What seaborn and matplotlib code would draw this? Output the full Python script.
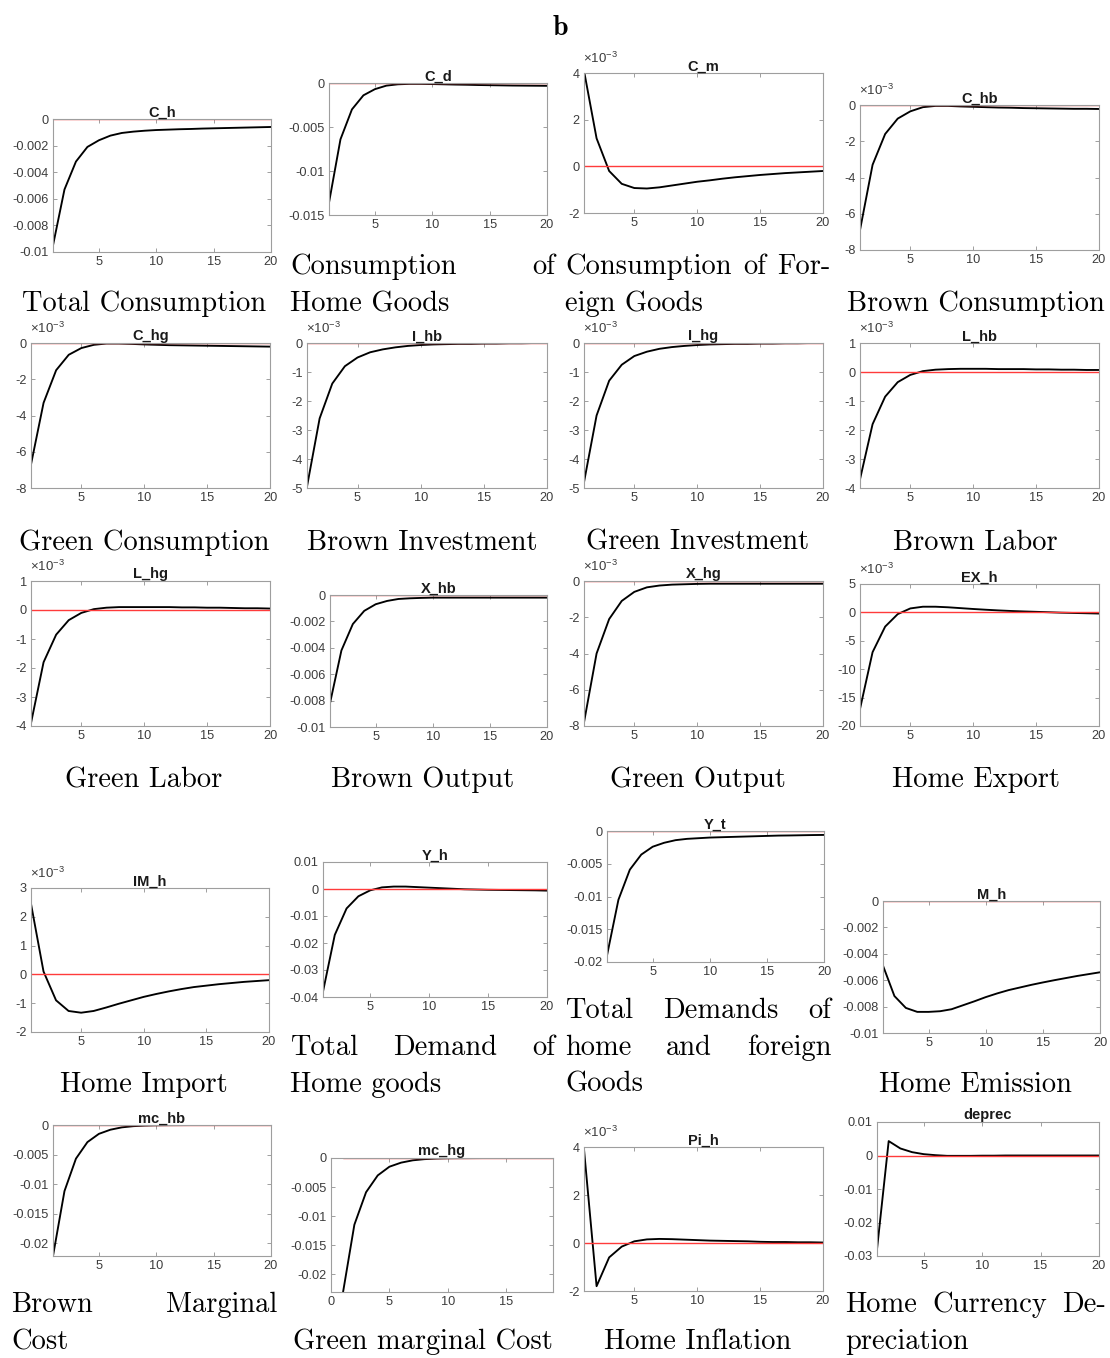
import numpy as np
import pandas as pd
import seaborn as sns
import matplotlib
matplotlib.use("Agg")
import matplotlib.pyplot as plt
from matplotlib.ticker import MultipleLocator, FuncFormatter

# ---------------- data ----------------
steps = list(range(1, 21))
zero_line = [0.0] * 20

c_h = [-0.0095, -0.0053, -0.0032, -0.0021, -0.0016, -0.00125, -0.00105, -0.00095, -0.00088, -0.00083,
       -0.0008, -0.00077, -0.00075, -0.00072, -0.0007, -0.00068, -0.00066, -0.00064, -0.00062, -0.0006]
c_d = [-0.0136, -0.0064, -0.0030, -0.0014, -0.0007, -0.0003, -0.00015, -0.0001, -0.0001, -0.00012,
       -0.00015, -0.00018, -0.0002, -0.00023, -0.00025, -0.00027, -0.00029, -0.0003, -0.00031, -0.00032]
c_m = [0.0041, 0.0012, -0.0002, -0.00075, -0.00093, -0.00095, -0.0009, -0.00082, -0.00074, -0.00066,
       -0.0006, -0.00053, -0.00047, -0.00042, -0.00037, -0.00033, -0.00029, -0.00026, -0.00023, -0.0002]
c_hb = [-0.0069, -0.0033, -0.0016, -0.00075, -0.00035, -0.00012, -0.00005, -0.00005, -0.00008, -0.0001,
        -0.00012, -0.00014, -0.00015, -0.00017, -0.00018, -0.00019, -0.0002, -0.00021, -0.00021, -0.00022]
c_hg = [-0.0067, -0.0033, -0.0015, -0.00065, -0.00028, -0.0001, -0.00003, -0.00003, -0.00005, -0.00008,
        -0.0001, -0.00012, -0.00013, -0.00014, -0.00015, -0.00016, -0.00017, -0.00018, -0.00019, -0.0002]
i_hb = [-0.00495, -0.0026, -0.0014, -0.0008, -0.0005, -0.00032, -0.00022, -0.00015, -0.0001, -0.00007,
        -0.00005, -0.00004, -0.00003, -0.00003, -0.00002, -0.00002, -0.00001, -0.00001, 0.0, 0.0]
i_hg = [-0.0048, -0.0025, -0.0013, -0.00075, -0.00045, -0.0003, -0.0002, -0.00014, -0.0001, -0.00007,
        -0.00005, -0.00004, -0.00003, -0.00003, -0.00002, -0.00002, -0.00001, -0.00001, 0.0, 0.0]
l_hb = [-0.0037, -0.0018, -0.00085, -0.00035, -0.0001, 0.00003, 0.00008, 0.0001, 0.00011, 0.00011,
        0.00011, 0.0001, 0.0001, 0.0001, 0.00009, 0.00009, 0.00008, 0.00008, 0.00007, 0.00007]
l_hg = [-0.0039, -0.0018, -0.00085, -0.00035, -0.0001, 0.00003, 0.00008, 0.0001, 0.0001, 0.0001,
        0.0001, 0.0001, 0.00009, 0.00009, 0.00008, 0.00008, 0.00007, 0.00006, 0.00006, 0.00005]
x_hb = [-0.0082, -0.0042, -0.0022, -0.0012, -0.0007, -0.00045, -0.0003, -0.00025, -0.00022, -0.0002,
        -0.0002, -0.0002, -0.0002, -0.0002, -0.0002, -0.0002, -0.0002, -0.0002, -0.0002, -0.0002]
x_hg = [-0.0078, -0.0040, -0.0021, -0.0011, -0.0006, -0.00035, -0.00025, -0.0002, -0.00018, -0.00016,
        -0.00015, -0.00015, -0.00015, -0.00015, -0.00015, -0.00015, -0.00015, -0.00015, -0.00015, -0.00015]
ex_h = [-0.017, -0.007, -0.0025, -0.0003, 0.0007, 0.001, 0.001, 0.0009, 0.00075, 0.0006,
        0.00047, 0.00035, 0.00025, 0.00017, 0.0001, 0.00003, -0.00005, -0.0001, -0.00015, -0.0002]
im_h = [0.00245, 0.0001, -0.0009, -0.00127, -0.00133, -0.00127, -0.00115, -0.00102, -0.0009, -0.00078,
        -0.00068, -0.00059, -0.00051, -0.00044, -0.00039, -0.00034, -0.0003, -0.00026, -0.00023, -0.0002]
y_h = [-0.038, -0.017, -0.0072, -0.0027, -0.0005, 0.0006, 0.0009, 0.0009, 0.0007, 0.0005,
       0.0003, 0.0001, -0.0001, -0.0002, -0.0003, -0.00035, -0.0004, -0.00045, -0.0005, -0.0006]
y_t = [-0.019, -0.0105, -0.0059, -0.0036, -0.0024, -0.0018, -0.0014, -0.0012, -0.0011, -0.001,
       -0.00095, -0.0009, -0.00085, -0.0008, -0.00075, -0.0007, -0.00068, -0.00065, -0.00062, -0.0006]
m_h = [-0.0049, -0.0072, -0.0081, -0.0084, -0.0084, -0.00835, -0.0082, -0.0079, -0.0076, -0.00728,
       -0.0070, -0.00675, -0.00655, -0.00635, -0.00617, -0.0060, -0.00584, -0.00568, -0.00554, -0.0054]
mc_hb = [-0.0222, -0.0112, -0.0057, -0.0029, -0.0015, -0.0008, -0.0004, -0.0002, -0.0001, -0.00005,
         -0.00003, -0.00002, -0.00001, 0.0, 0.0, 0.0, 0.0, 0.0, 0.0, 0.0]
mc_hg = [-0.0235, -0.0115, -0.0059, -0.003, -0.0015, -0.0008, -0.0004, -0.0002, -0.0001, -0.00005,
         -0.00003, -0.00002, -0.00001, 0.0, 0.0, 0.0, 0.0, 0.0, 0.0, 0.0]
pi_h = [0.0039, -0.0018, -0.0006, -0.00015, 0.00007, 0.00015, 0.00017, 0.00016, 0.00014, 0.00012,
        0.0001, 0.00009, 0.00008, 0.00007, 0.00005, 0.00004, 0.00004, 0.00003, 0.00003, 0.00002]
deprec = [-0.028, 0.0043, 0.0021, 0.001, 0.0004, 0.0001, -0.0001, -0.0001, -0.0001, -0.00005,
          -0.00005, 0.0, 0.0, 0.0, 0.0, 0.0, 0.0, 0.0, 0.0, 0.0]

titles = ["C_h", "C_d", "C_m", "C_hb", "C_hg", "I_hb", "I_hg", "L_hb", "L_hg", "X_hb",
          "X_hg", "EX_h", "IM_h", "Y_h", "Y_t", "M_h", "mc_hb", "mc_hg", "Pi_h", "deprec"]
series = [c_h, c_d, c_m, c_hb, c_hg, i_hb, i_hg, l_hb, l_hg, x_hb,
          x_hg, ex_h, im_h, y_h, y_t, m_h, mc_hb, mc_hg, pi_h, deprec]
captions = [["Total Consumption"], ["Consumption of", "Home Goods"],
            ["Consumption of For-", "eign Goods"], ["Brown Consumption"],
            ["Green Consumption"], ["Brown Investment"], ["Green Investment"], ["Brown Labor"],
            ["Green Labor"], ["Brown Output"], ["Green Output"], ["Home Export"],
            ["Home Import"], ["Total Demand of", "Home goods"],
            ["Total Demands of", "home and foreign", "Goods"], ["Home Emission"],
            ["Brown Marginal", "Cost"], ["Green marginal Cost"], ["Home Inflation"],
            ["Home Currency De-", "preciation"]]

# ---------------- layout (pixels) ----------------
W, H = 1110, 1358
# box: left, top, right, bottom ; ylim ; ystep ; scale ; xlim
layout = [
    ((53, 119, 271, 252), (-0.01, 0), 0.002, 1, (1, 20)),
    ((329, 83, 547, 215), (-0.015, 0), 0.005, 1, (1, 20)),
    ((584, 73, 823, 213), (-0.002, 0.004), 0.002, 1e-3, (1, 20)),
    ((860, 105, 1099, 250), (-0.008, 0), 0.002, 1e-3, (1, 20)),
    ((31, 343, 270, 488), (-0.008, 0), 0.002, 1e-3, (1, 20)),
    ((307, 343, 547, 488), (-0.005, 0), 0.001, 1e-3, (1, 20)),
    ((584, 343, 823, 488), (-0.005, 0), 0.001, 1e-3, (1, 20)),
    ((860, 343, 1099, 488), (-0.004, 0.001), 0.001, 1e-3, (1, 20)),
    ((31, 581, 270, 726), (-0.004, 0.001), 0.001, 1e-3, (1, 20)),
    ((330, 595, 547, 727), (-0.01, 0), 0.002, 1, (1, 20)),
    ((584, 581, 823, 726), (-0.008, 0), 0.002, 1e-3, (1, 20)),
    ((860, 584, 1099, 726), (-0.02, 0.005), 0.005, 1e-3, (1, 20)),
    ((31, 888, 269, 1032), (-0.002, 0.003), 0.001, 1e-3, (1, 20)),
    ((323, 862, 547, 997), (-0.04, 0.01), 0.01, 1, (1, 20)),
    ((607, 831, 824, 962), (-0.02, 0), 0.005, 1, (1, 20)),
    ((883, 901, 1100, 1033), (-0.01, 0), 0.002, 1, (1, 20)),
    ((53, 1125, 271, 1256), (-0.0222, 0), 0.005, 1, (1, 20)),
    ((331, 1158, 553, 1292), (-0.0231, 0), 0.005, 1, (0, 19)),
    ((584, 1147, 823, 1291), (-0.002, 0.004), 0.002, 1e-3, (1, 20)),
    ((877, 1122, 1099, 1256), (-0.03, 0.01), 0.01, 1, (1, 20)),
]
cols = [(11, 277), (290, 555), (565, 831), (845, 1106)]
row_base = [311, 550, 787, 1092, 1349]
line_gap = 37

sns.set_theme(style="white")
plt.rcParams["font.family"] = ["Liberation Sans", "DejaVu Sans"]
plt.rcParams["axes.unicode_minus"] = False
plt.rcParams["mathtext.fontset"] = "custom"
plt.rcParams["mathtext.rm"] = "Liberation Sans"
plt.rcParams["mathtext.it"] = "Liberation Sans:italic"
plt.rcParams["mathtext.bf"] = "Liberation Sans:bold"

fig = plt.figure(figsize=(W / 100, H / 100), dpi=100)
fig.patch.set_facecolor("white")

spine_c = "#9e9e9e"
tick_c = "#3c3c3c"


def make_fmt(scale):
    return FuncFormatter(lambda v, p: f"{round(v / scale, 6) + 0.0:g}")


for i, (ttl, ser, lay) in enumerate(zip(titles, series, layout)):
    (l, t, r, b), ylim, ystep, scale, xlim = lay
    ax = fig.add_axes([l / W, 1 - b / H, (r - l) / W, (b - t) / H])
    df = pd.DataFrame({"step": steps, "value": ser, "zero": zero_line})
    sns.lineplot(data=df, x="step", y="value", ax=ax, color="black", lw=1.35, legend=False)
    sns.lineplot(data=df, x="step", y="zero", ax=ax, color="#ff3b3b", lw=1.0, legend=False)
    ax.set_xlim(*xlim)
    ax.set_ylim(*ylim)
    ax.xaxis.set_major_locator(MultipleLocator(5))
    ax.yaxis.set_major_locator(MultipleLocator(ystep))
    ax.yaxis.set_major_formatter(make_fmt(scale))
    ax.xaxis.set_major_formatter(make_fmt(1))
    ax.set_xlabel("")
    ax.set_ylabel("")
    ax.tick_params(direction="in", length=3, width=0.7, color=spine_c, labelcolor=tick_c,
                   labelsize=9.2, pad=3, top=True, right=True, bottom=True, left=True)
    for sp in ax.spines.values():
        sp.set_color(spine_c)
        sp.set_linewidth(0.8)
        sp.set_visible(True)
    ax.set_title(ttl, fontsize=10.5, fontweight="bold", color="#1a1a1a", pad=2)
    if scale != 1:
        ax.annotate("×10$^{\\mathregular{-3}}$", xy=(0, 1), xycoords="axes fraction",
                    xytext=(-1, 7), textcoords="offset points", fontsize=9.5,
                    color=tick_c, ha="left", va="baseline")

# ---------------- captions ----------------
cap_font = dict(family="cmr10", fontsize=20.5, color="black")
renderer = fig.canvas.get_renderer()


def place_line(text, x0, x1, y, mode):
    fy = 1 - y / H
    if mode == "center":
        fig.text((x0 + x1) / 2 / W, fy, text, ha="center", va="baseline", **cap_font)
    elif mode == "left":
        fig.text(x0 / W, fy, text, ha="left", va="baseline", **cap_font)
    else:
        words = text.split(" ")
        objs = [fig.text(0, fy, w_, ha="left", va="baseline", **cap_font) for w_ in words]
        widths = [o.get_window_extent(renderer).width for o in objs]
        gap = (x1 - x0 - sum(widths)) / (len(words) - 1)
        x = x0
        for o, wd in zip(objs, widths):
            o.set_x(x / W)
            x += wd + gap


for i, lines in enumerate(captions):
    row, col = divmod(i, 4)
    x0, x1 = cols[col]
    base = row_base[row]
    n = len(lines)
    for k, ln in enumerate(lines):
        y = base - (n - 1 - k) * line_gap
        if n == 1:
            place_line(ln, x0, x1, y, "center")
        elif k == n - 1:
            place_line(ln, x0, x1, y, "left")
        else:
            place_line(ln, x0, x1, y, "justify")

fig.text(560 / W, 1 - 35 / H, "b", ha="center", va="baseline", family="cmb10",
         fontsize=20, color="black")

fig.savefig("out.png", dpi=100, facecolor="white")
